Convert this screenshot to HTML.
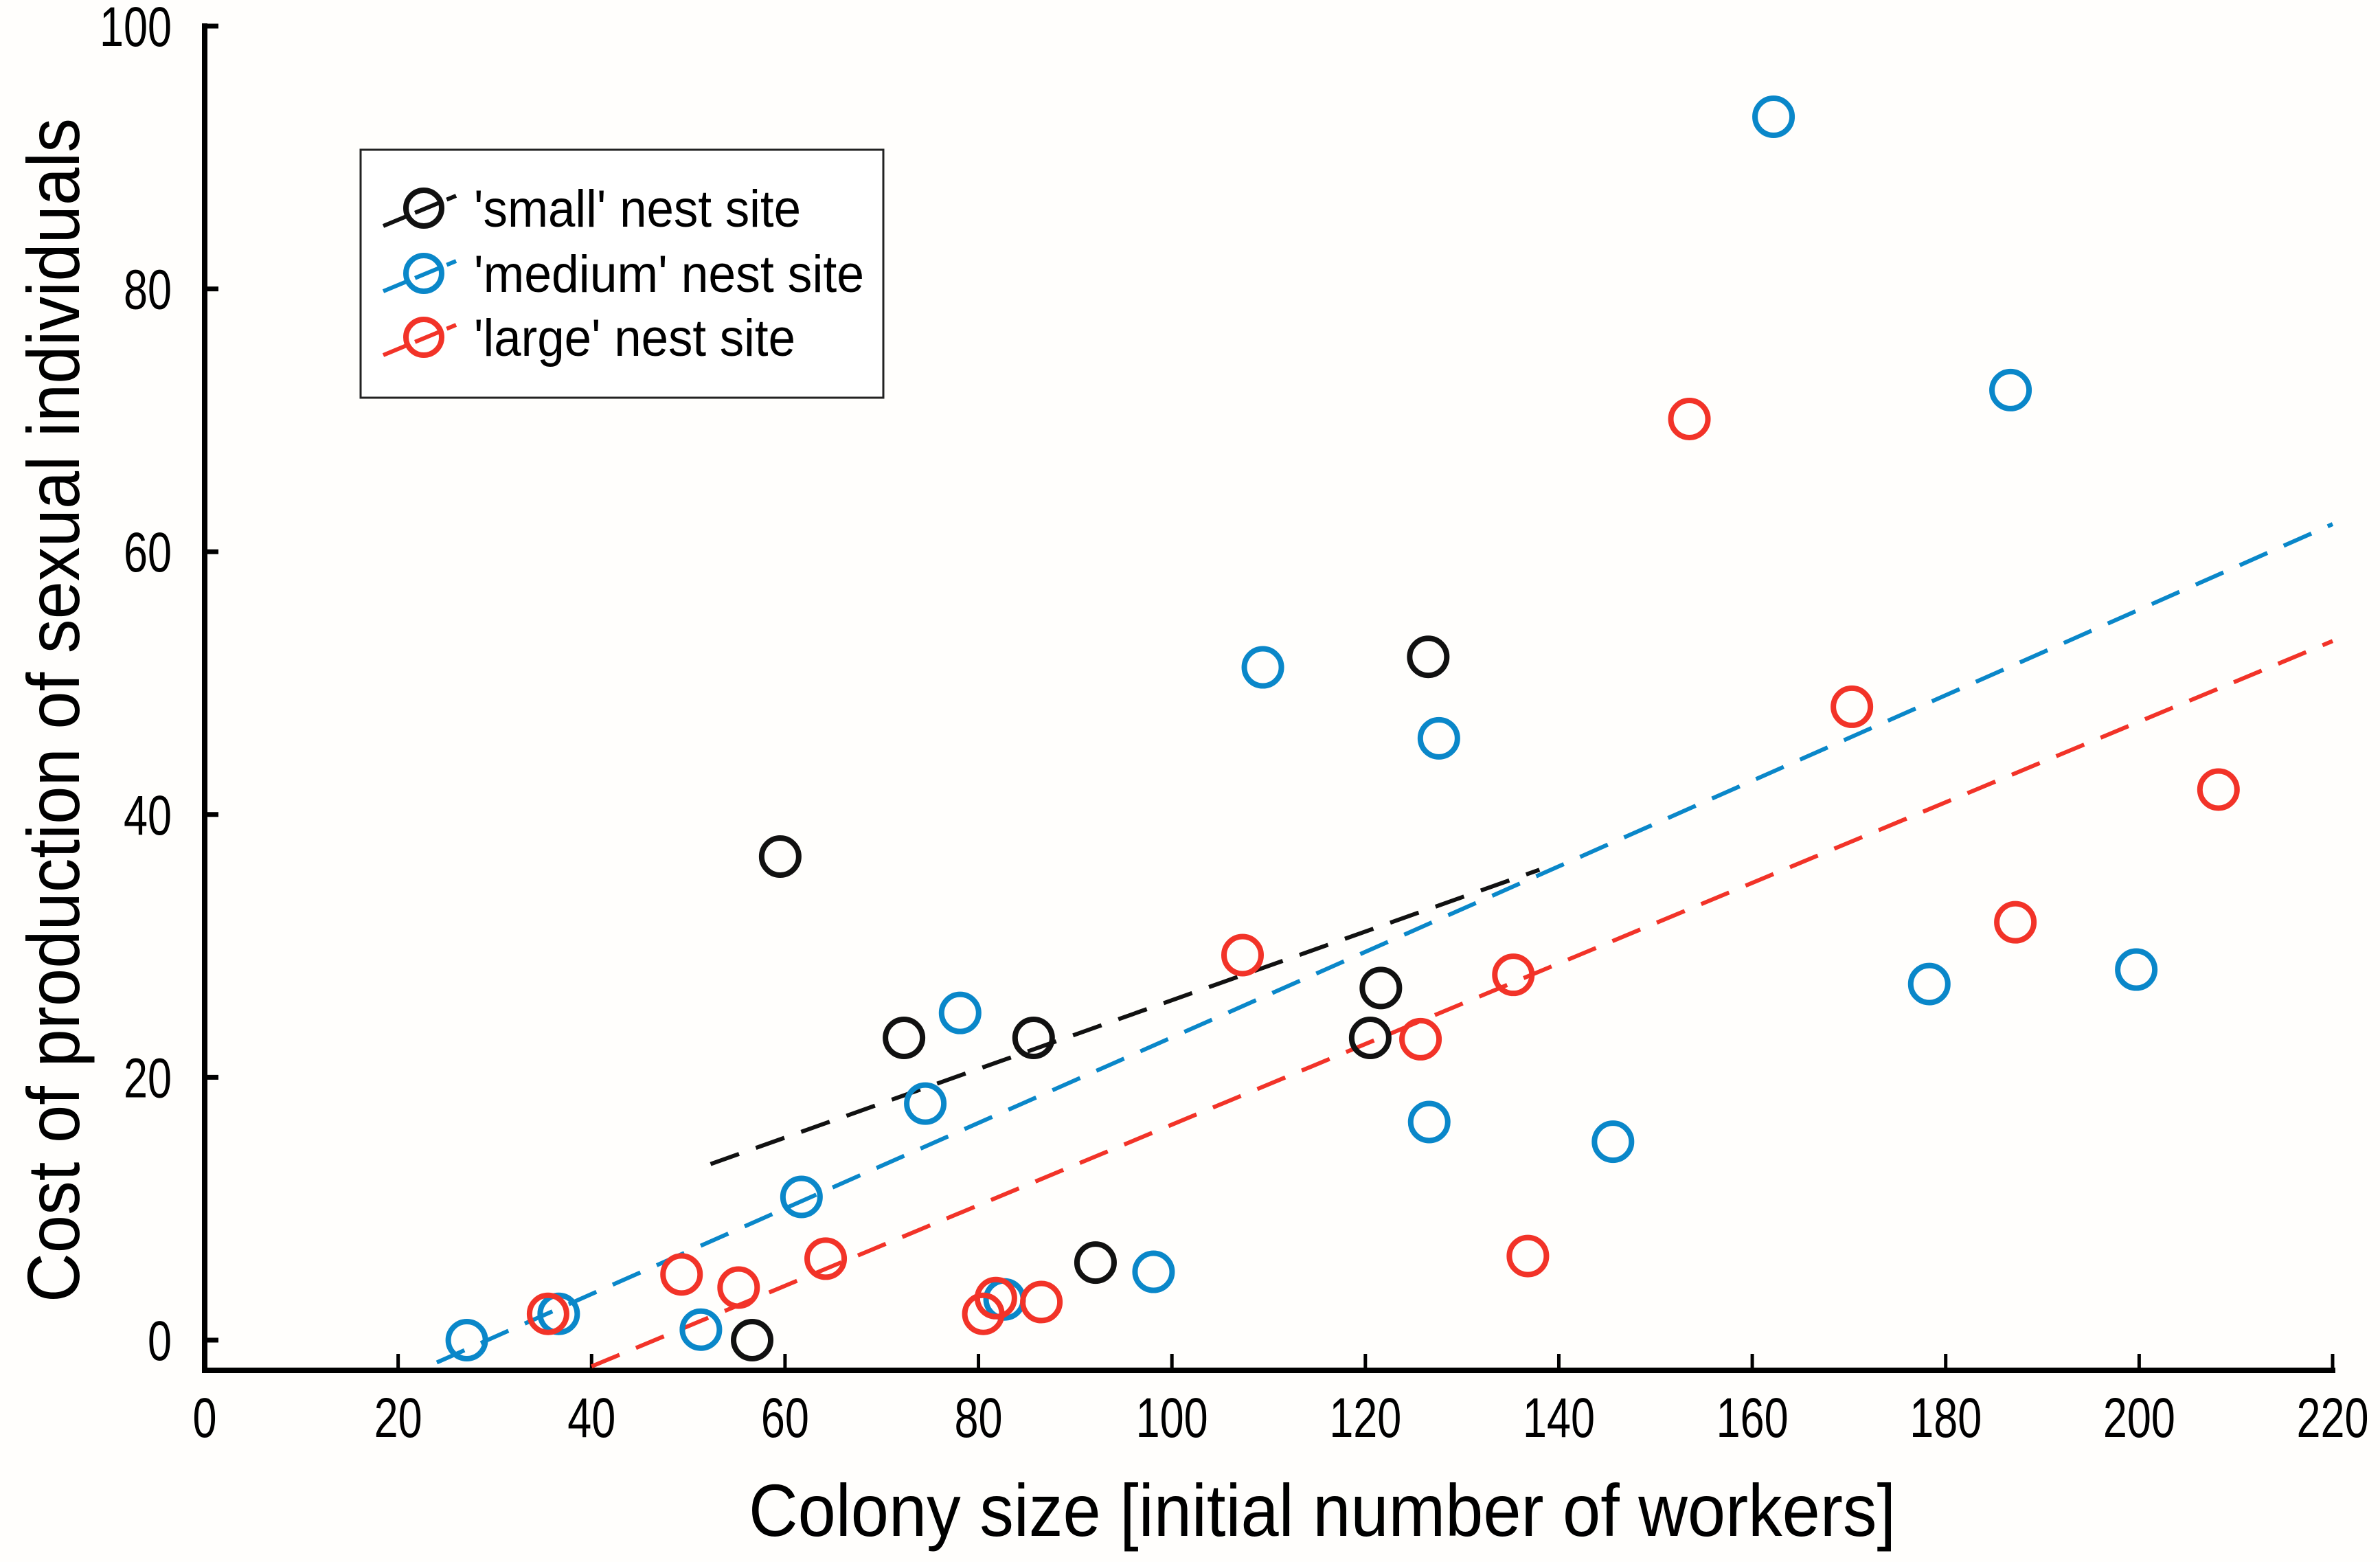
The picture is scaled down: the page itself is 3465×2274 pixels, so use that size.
<!DOCTYPE html>
<html><head><meta charset="utf-8"><style>
html,body{margin:0;padding:0;background:#fff;}
svg{display:block;font-family:"Liberation Sans",Arial,sans-serif;}
</style></head><body>
<svg id="chart" width="3465" height="2274" viewBox="0 0 3465 2274" xmlns="http://www.w3.org/2000/svg">
<rect width="3465" height="2274" fill="#fffefc"/>
<g id="plot"></g>
</svg>
<script>
const xTicks = [0,20,40,60,80,100,120,140,160,180,200,220];
const yTicks = [0,20,40,60,80,100];
const smallX = [59.5,72.3,85.7,56.6,92.1,120.5,121.6,126.5];
const smallY = [36.8,23,23,0,5.9,23,26.8,52];
const mediumX = [27.1,36.6,51.3,61.7,74.5,78.1,82.7,98.1,109.4,127.6,126.6,145.6,162.2,178.3,186.7,199.7];
const mediumY = [0,2,0.8,10.9,18,24.9,3.1,5.2,51.2,45.8,16.6,15.1,93.1,27.1,72.3,28.2];
const largeX = [35.5,49.3,55.2,64.2,80.5,81.8,86.5,107.3,125.7,135.3,136.8,153.5,170.3,187.2,208.2];
const largeY = [2,5,4,6.2,2,3.2,2.9,29.3,22.9,27.8,6.4,70.1,48.2,31.8,41.9];
const smallFitX = [52.3,138];
const smallFitY = [13.4,35.8];
const mediumFitX = [24,220];
const mediumFitY = [-1.7,62.1];
const largeFitX = [40,220];
const largeFitY = [-2,53.2];

const NS="http://www.w3.org/2000/svg";
const X0=298, X1=3396, Y0=1951, Y1=38, AXY=1995;
const sx=v=>X0+(X1-X0)*v/220;
const sy=v=>Y0-(Y0-Y1)*v/100;
const g=document.getElementById('plot');
function mk(tag,attrs,parent){const e=document.createElementNS(NS,tag);for(const k in attrs)e.setAttribute(k,attrs[k]);(parent||g).appendChild(e);return e;}

let e=mk('line',{x1:X0,y1:AXY,x2:X1+4,y2:AXY,stroke:'#000','stroke-width':8});


e=mk('line',{x1:X0,y1:Y1-4,x2:X0,y2:AXY+4,stroke:'#000','stroke-width':8});


xTicks.forEach(t=>{
  const x=sx(t);
  if(t>0){const l=mk('line',{x1:x,y1:AXY,x2:x,y2:AXY-24,stroke:'#000','stroke-width':5});
  
  }
  const s=String(t);
  const tx=mk('text',{x:x,y:2092,'text-anchor':'middle','font-size':82,fill:'#000',textLength:s.length*35,lengthAdjust:'spacingAndGlyphs'});
  tx.textContent=s;
  
  
});
yTicks.forEach(t=>{
  const y=sy(t);
  const l=mk('line',{x1:X0,y1:y,x2:X0+20,y2:y,stroke:'#000','stroke-width':7});
  
  
  const s=String(t);
  const tx=mk('text',{x:250,y:y+29,'text-anchor':'end','font-size':82,fill:'#000',textLength:s.length*35,lengthAdjust:'spacingAndGlyphs'});
  tx.textContent=s;
  
  
});
e=mk('text',{x:1925,y:2236,'text-anchor':'middle','font-size':108,fill:'#000',textLength:1670,lengthAdjust:'spacingAndGlyphs'});
e.textContent='Colony size [initial number of workers]';


e=mk('text',{x:0,y:0,'text-anchor':'middle','font-size':108,fill:'#000',textLength:1724,lengthAdjust:'spacingAndGlyphs',transform:'translate(115,1034) rotate(-90)'});
e.textContent='Cost of production of sexual individuals';



const series=[
 {name:'small',color:'#111111',xs:smallX,ys:smallY,fx:smallFitX,fy:smallFitY},
 {name:'medium',color:'#0a87c9',xs:mediumX,ys:mediumY,fx:mediumFitX,fy:mediumFitY},
 {name:'large',color:'#f23328',xs:largeX,ys:largeY,fx:largeFitX,fy:largeFitY}
];
series.forEach(s=>{
  const l=mk('line',{x1:sx(s.fx[0]),y1:sy(s.fy[0]),x2:sx(s.fx[1]),y2:sy(s.fy[1]),stroke:s.color,'stroke-width':6,'stroke-dasharray':'44 26'});
  
  
});
series.forEach(s=>{
  s.xs.forEach((v,i)=>{
    const c=mk('circle',{cx:sx(v),cy:sy(s.ys[i]),r:27,fill:'none',stroke:s.color,'stroke-width':8});
    
    
  });
});

const lg=mk('g',{});


mk('rect',{x:525,y:218,width:761,height:361,fill:'#fff',stroke:'#222','stroke-width':3},lg);
const labels=["'small' nest site","'medium' nest site","'large' nest site"];
const widths=[476,568,468];
const ly=[303,398,491];
series.forEach((s,i)=>{
  const ent=mk('g',{},lg);
  
  
  mk('line',{x1:558,y1:ly[i]+26,x2:664,y2:ly[i]-18,stroke:s.color,'stroke-width':6,'stroke-dasharray':'40 10'},ent);
  mk('circle',{cx:617,cy:ly[i],r:26,fill:'none',stroke:s.color,'stroke-width':8},ent);
  const t=mk('text',{x:690,y:ly[i]+27,'font-size':76,fill:'#000',textLength:widths[i],lengthAdjust:'spacingAndGlyphs'},ent);
  t.textContent=labels[i];
});
</script>
</body></html>
